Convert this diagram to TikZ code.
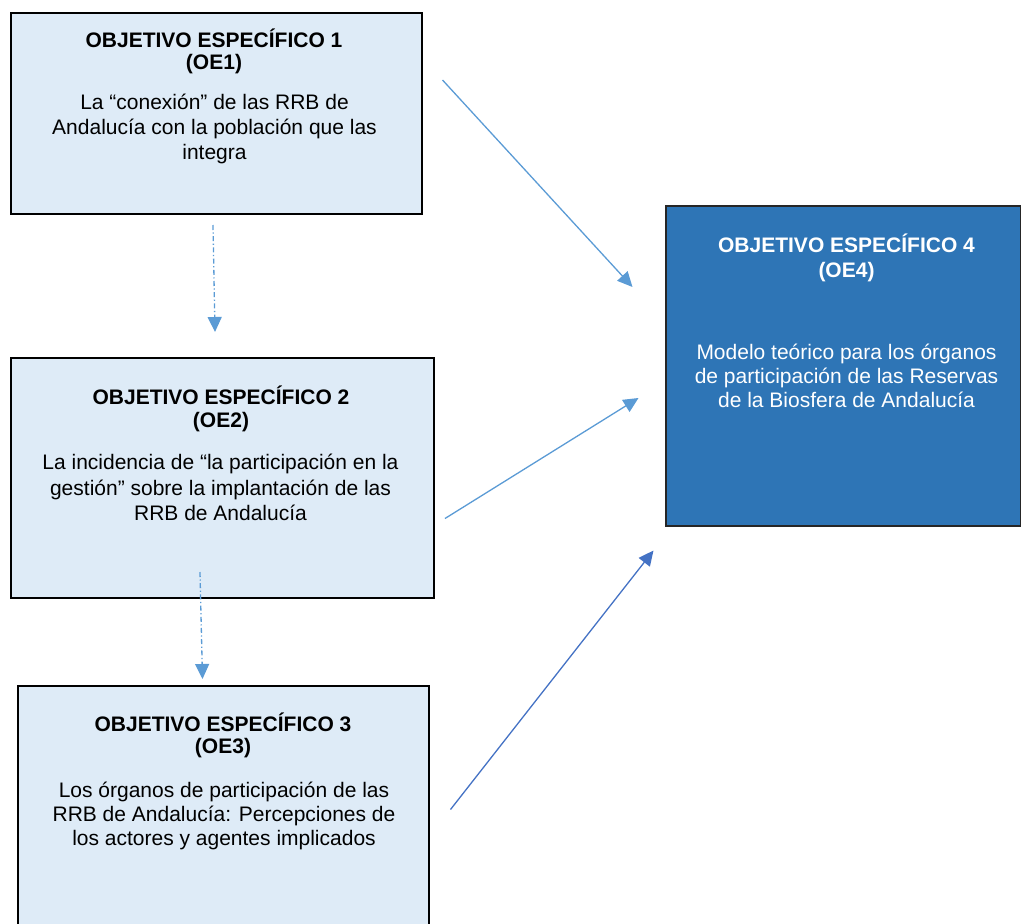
\documentclass[tikz,border=0pt]{standalone}
\usepackage{fontspec}
\setmainfont{Liberation Sans}
\usetikzlibrary{arrows.meta}
\definecolor{lightfill}{HTML}{DEEBF7}
\definecolor{darkfill}{HTML}{2E75B6}
\definecolor{arrowblue}{HTML}{5B9BD5}
\definecolor{arrowdark}{HTML}{4472C4}
\newcommand\mylines[2]{{\fontsize{21}{#1}\selectfont\begin{tabular}[t]{@{}c@{}}#2\end{tabular}}}
\begin{document}
\begin{tikzpicture}[x=1pt,y=-1pt,
  objbox/.style={draw=black,line width=2pt,fill=lightfill,anchor=north west,inner sep=0pt},
  finalbox/.style={draw=black!85,line width=2pt,fill=darkfill,anchor=north west,inner sep=0pt},
  ttl/.style={anchor=base,inner sep=0pt,font=\bfseries},
  bdy/.style={anchor=base,inner sep=0pt},
  conn/.style={arrowblue,line width=1.3pt,-{Triangle[length=15pt,width=14pt]}},
  dashconn/.style={conn,dash pattern=on 5pt off 2.5pt on 1.2pt off 2.5pt}]
\useasboundingbox (0,0) rectangle (1021,924);
% boxes
\node[objbox,minimum width=411pt,minimum height=201pt] (b1) at (10,12) {};
\node[objbox,minimum width=423pt,minimum height=240pt] (b2) at (10,357) {};
\node[objbox,minimum width=411pt,minimum height=250pt] (b3) at (17,685) {};
\node[finalbox,minimum width=355pt,minimum height=320pt] (b4) at (665,205) {};
% texts box 1
\node[ttl] (t1) at (214,47) {\mylines{22}{\bfseries OBJETIVO ESPECÍFICO 1\\\bfseries (OE1)}};
\node[bdy] (d1) at (214.5,109) {\mylines{25}{La “conexión” de las RRB de\\Andalucía con la población que las\\integra}};
% texts box 2
\node[ttl] (t2) at (221,404) {\mylines{23.5}{\bfseries OBJETIVO ESPECÍFICO 2\\\bfseries (OE2)}};
\node[bdy] (d2) at (220.5,469.5) {\mylines{25.5}{La incidencia de “la participación en la\\gestión” sobre la implantación de las\\RRB de Andalucía}};
% texts box 3
\node[ttl] (t3) at (223,731) {\mylines{22.5}{\bfseries OBJETIVO ESPECÍFICO 3\\\bfseries (OE3)}};
\node[bdy] (d3) at (224,797) {\mylines{24}{Los órganos de participación de las\\RRB de Andalucía: Percepciones de\\los actores y agentes implicados}};
% texts box 4
\node[ttl,text=white] (t4) at (846.5,252.5) {\mylines{25}{\bfseries OBJETIVO ESPECÍFICO 4\\\bfseries (OE4)}};
\node[bdy,text=white] (d4) at (846.5,359) {\mylines{24}{Modelo teórico para los órganos\\de participación de las Reservas\\de la Biosfera de Andalucía}};
% connector end points
\coordinate (s1) at (213,225);  \coordinate (e1) at (215,332);
\coordinate (s2) at (200,572);  \coordinate (e2) at (202.5,679);
\coordinate (s3) at (442.5,80); \coordinate (e3) at (632.5,287);
\coordinate (s4) at (445,518.5);\coordinate (e4) at (638.5,398);
\coordinate (s5) at (450.5,809.5);\coordinate (e5) at (653.5,550.5);
% connectors
\draw[dashconn] (s1) -- (e1);
\draw[dashconn] (s2) -- (e2);
\draw[conn] (s3) -- (e3);
\draw[conn] (s4) -- (e4);
\draw[conn,arrowdark] (s5) -- (e5);
\end{tikzpicture}
\end{document}
